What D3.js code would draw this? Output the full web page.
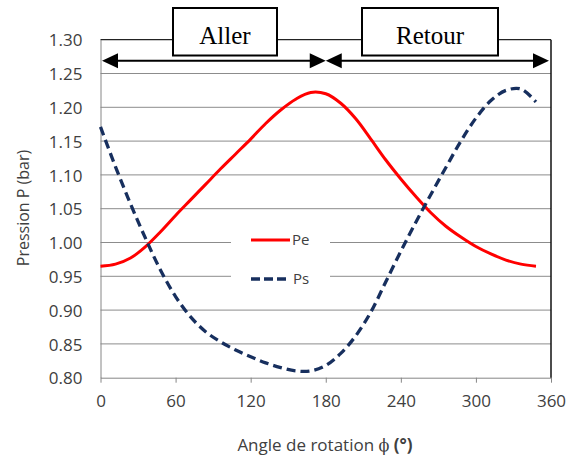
<!DOCTYPE html>
<html><head><meta charset="utf-8">
<script src="https://cdn.jsdelivr.net/npm/d3@7"></script>
<style>html,body{margin:0;padding:0;background:#fff;}svg{display:block;}</style>
</head><body>
<svg id="chart" width="573" height="459"></svg>
<script>
const angles = [0,12,24,36,48,60,72,84,96,108,120,132,144,156,168,180,192,204,216,228,240,252,264,276,288,300,312,324,336,348];
const pe = [0.965,0.968,0.977,0.994,1.016,1.040,1.063,1.086,1.109,1.131,1.153,1.176,1.196,1.212,1.222,1.220,1.206,1.183,1.153,1.122,1.094,1.068,1.044,1.024,1.008,0.994,0.983,0.974,0.968,0.965];
const ps = [1.171,1.112,1.057,1.006,0.959,0.920,0.890,0.868,0.853,0.841,0.831,0.822,0.815,0.810,0.810,0.818,0.836,0.862,0.897,0.942,0.987,1.030,1.071,1.111,1.150,1.184,1.210,1.225,1.227,1.208];
const xTicks = [0,60,120,180,240,300,360];
const yTicks = [0.80,0.85,0.90,0.95,1.00,1.05,1.10,1.15,1.20,1.25,1.30];
const seriesNames = ["Pe","Ps"];
const phaseLabels = ["Aller","Retour"];

const svg = d3.select("#chart");
const L = 100.5, R = 551, T = 39.7, B = 377.7;
const x = d3.scaleLinear().domain([0,360]).range([L,R]);
const y = d3.scaleLinear().domain([0.80,1.30]).range([B,T]);
const sans = "'Open Sans', sans-serif";
const textCol = "#404040";

// gridlines
svg.append("g").selectAll("line").data(yTicks.slice(1,-1)).join("line")
  .attr("x1",L).attr("x2",R).attr("y1",d=>y(d)).attr("y2",d=>y(d))
  .attr("stroke","#8c8c8c").attr("stroke-width",1);

// axes
const yAxis = svg.append("g").attr("transform",`translate(${L},0)`)
  .call(d3.axisLeft(y).tickValues(yTicks).tickSize(0).tickPadding(18).tickFormat(d3.format(".2f")));
yAxis.select(".domain").attr("stroke","#868686");
yAxis.selectAll("text").attr("font-family",sans).attr("font-size",17).attr("fill",textCol).attr("dy","0.36em");

const xAxis = svg.append("g").attr("transform",`translate(0,${B})`)
  .call(d3.axisBottom(x).tickValues(xTicks).tickSizeInner(5).tickSizeOuter(0).tickPadding(16));
xAxis.select(".domain").attr("stroke","#868686");
xAxis.selectAll(".tick line").attr("stroke","#868686");
xAxis.selectAll("text").attr("font-family",sans).attr("font-size",17).attr("fill",textCol).attr("dy","0.5em");

// plot border top & right
svg.append("line").attr("x1",L).attr("x2",R).attr("y1",T).attr("y2",T).attr("stroke","#222").attr("stroke-width",1.2);
svg.append("line").attr("x1",R).attr("x2",R).attr("y1",T).attr("y2",B).attr("stroke","#111").attr("stroke-width",1.5);

// lines
const line = d3.line().curve(d3.curveCatmullRom.alpha(0.5));
svg.append("path").datum(angles.map((a,i)=>[x(a),y(pe[i])]))
  .attr("d",line).attr("fill","none").attr("stroke","#ff0000").attr("stroke-width",3);
svg.append("path").datum(angles.map((a,i)=>[x(a),y(ps[i])]))
  .attr("d",line).attr("fill","none").attr("stroke","#172f5e").attr("stroke-width",3.3).attr("stroke-dasharray","9,5");

// legend
const lg = svg.append("g");
lg.append("rect").attr("x",231).attr("y",226).attr("width",99).attr("height",68).attr("fill","#fff");
lg.append("line").attr("x1",251).attr("x2",290).attr("y1",240).attr("y2",240).attr("stroke","#ff0000").attr("stroke-width",3);
lg.append("line").attr("x1",251).attr("x2",287).attr("y1",279).attr("y2",279).attr("stroke","#172f5e").attr("stroke-width",3.3).attr("stroke-dasharray","9,4");
lg.append("text").attr("x",292).attr("y",240).attr("dy","0.36em").text(seriesNames[0]).attr("font-family",sans).attr("font-size",15).attr("fill",textCol);
lg.append("text").attr("x",293).attr("y",279).attr("dy","0.36em").text(seriesNames[1]).attr("font-family",sans).attr("font-size",15).attr("fill",textCol);

// axis titles
svg.append("text").attr("transform","translate(29,208) rotate(-90)").attr("text-anchor","middle")
  .attr("font-family",sans).attr("font-size",16).attr("fill",textCol).text("Pression P (bar)");
const xt = svg.append("text").attr("x",325).attr("y",451).attr("text-anchor","middle")
  .attr("font-family",sans).attr("font-size",17).attr("fill",textCol);
xt.append("tspan").text("Angle de rotation ");
xt.append("tspan").attr("font-family","'DejaVu Serif', serif").attr("font-size",16).text("ϕ");
xt.append("tspan").attr("font-weight","bold").text(" (°)");

// arrows
const ay = 60.7, hw = 16, hh = 7.5;
const arrows = [[x(0)+1.5, x(180)],[x(180), x(360)-2]];
arrows.forEach(([a,b])=>{
  svg.append("line").attr("x1",a+hw-2).attr("x2",b-hw+2).attr("y1",ay).attr("y2",ay).attr("stroke","#000").attr("stroke-width",2);
  svg.append("path").attr("d",`M${a},${ay}L${a+hw},${ay-hh}L${a+hw},${ay+hh}Z`).attr("fill","#000");
  svg.append("path").attr("d",`M${b},${ay}L${b-hw},${ay-hh}L${b-hw},${ay+hh}Z`).attr("fill","#000");
});

// boxes
const boxes = [{x0:173,x1:277},{x0:362,x1:498}];
boxes.forEach((bx,i)=>{
  svg.append("rect").attr("x",bx.x0).attr("y",8).attr("width",bx.x1-bx.x0).attr("height",47.5)
    .attr("fill","#fff").attr("stroke","#000").attr("stroke-width",2);
  svg.append("text").attr("x",(bx.x0+bx.x1)/2).attr("y",43.5).attr("text-anchor","middle")
    .attr("font-family","'Liberation Serif','Times New Roman',serif").attr("font-size",25).attr("fill","#000").text(phaseLabels[i]);
});
</script>
</body></html>
